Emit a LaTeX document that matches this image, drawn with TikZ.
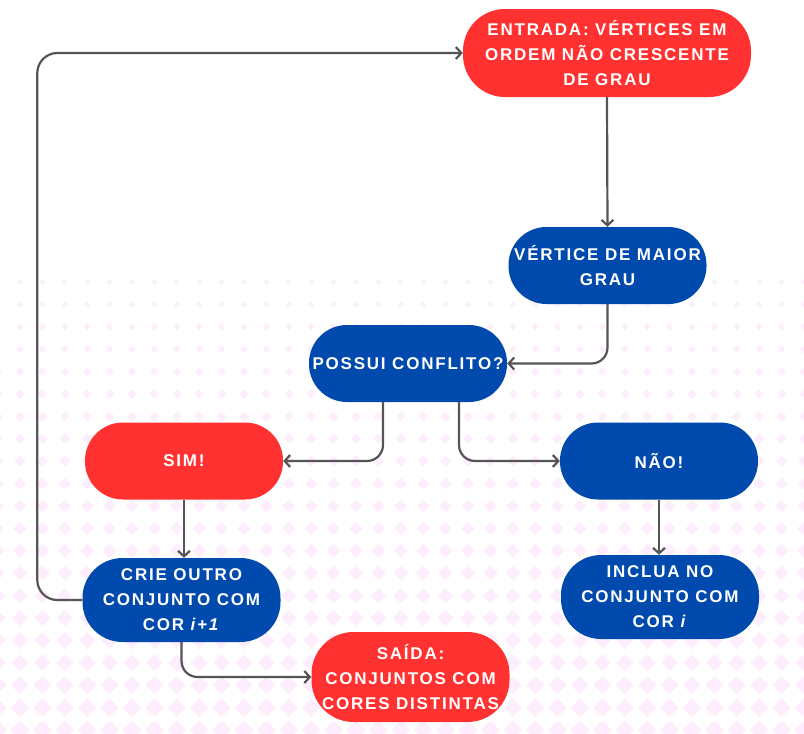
\documentclass[tikz,border=0pt]{standalone}
\usepackage{fontspec}
\newfontfamily\nodefont[LetterSpace=10.5]{Liberation Sans}
\usetikzlibrary{arrows.meta}
\definecolor{cred}{HTML}{FF3131}
\definecolor{cblue}{HTML}{004AAD}
\definecolor{cline}{HTML}{555555}
\definecolor{cpink}{HTML}{FEEEFD}
\begin{document}
\begin{tikzpicture}[x=1pt,y=-1pt,
 box/.style={rounded corners=38pt, text=white, font=\nodefont\bfseries\fontsize{17}{25}\selectfont, align=center, inner sep=0pt, minimum width=198pt, minimum height=77pt},
 redbox/.style={box, fill=cred},
 bluebox/.style={box, fill=cblue},
 conn/.style={draw=cline, line width=2.2pt, rounded corners=16pt, -{Straight Barb[length=5.5pt,width=12pt]}}]
\useasboundingbox (0,0) rectangle (804,734);
\fill[white] (0,0) rectangle (804,734);
\foreach \j in {0,...,20}{
 \foreach \i in {-1,...,35}{
   \pgfmathsetmacro\yy{282+22.4*\j}
   \pgfmathsetmacro\xx{20+22.4*\i}
   \pgfmathsetmacro\rr{min(9.5,0.015*\yy-1.4)}
   \fill[cpink] ({\xx},{\yy-\rr}) -- ({\xx+\rr},{\yy}) -- ({\xx},{\yy+\rr}) -- ({\xx-\rr},{\yy}) -- cycle;
 }}
\node[redbox, minimum width=288pt, minimum height=88pt, rounded corners=42pt] (in) at (607,53) {ENTRADA: VÉRTICES EM\\ORDEM NÃO CRESCENTE\\DE GRAU};
\node[bluebox] (v) at (607.5,265.5) {VÉRTICE DE MAIOR\\GRAU};
\node[bluebox] (p) at (408,363.5) {POSSUI CONFLITO?};
\node[redbox] (s) at (184,461) {SIM!};
\node[bluebox] (n) at (659,461) {NÃO!};
\node[bluebox, minimum height=84pt, rounded corners=40pt] (c) at (181.5,600) {CRIE OUTRO\\CONJUNTO COM\\COR \textit{i+1}};
\node[bluebox, minimum height=84pt, rounded corners=40pt] (q) at (660,597) {INCLUA NO\\CONJUNTO COM\\COR \textit{i}};
\node[redbox, minimum height=90pt, rounded corners=42pt] (o) at (410.5,677) {SAÍDA:\\CONJUNTOS COM\\CORES DISTINTAS};
\draw[conn] (in.south) -- (v.north);
\draw[conn] (v.south) |- (p.east);
\draw[conn] ([xshift=-25pt]p.south) |- (s.east);
\draw[conn] ([xshift=51pt]p.south) |- (n.west);
\draw[conn] (s.south) -- (s.south |- c.north);
\draw[conn] (n.south) -- (n.south |- q.north);
\draw[conn] (c.south) |- (o.west);
\draw[conn, rounded corners=20pt] (c.west) -- ++(-45pt,0) |- (in.west);
\end{tikzpicture}
\end{document}
